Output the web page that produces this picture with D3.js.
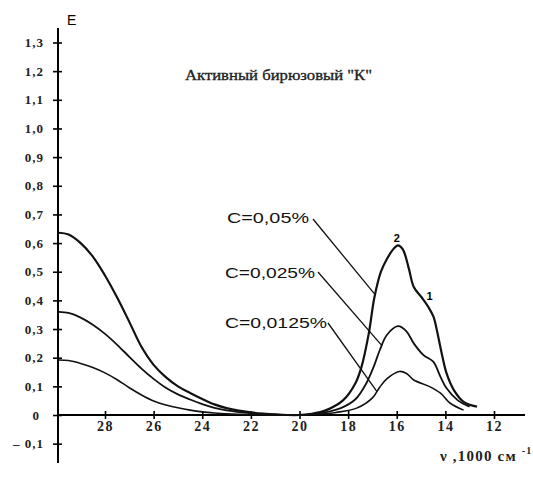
<!DOCTYPE html>
<html><head><meta charset="utf-8">
<script src="https://cdn.jsdelivr.net/npm/d3@7"></script>
<style>body{margin:0;background:#fff} svg{display:block} .serif{font-family:"Liberation Serif","DejaVu Serif",serif} .sans{font-family:"Liberation Sans",Arial,sans-serif}</style>
</head><body><svg id="c" width="533" height="481"></svg>
<script>
// ---- data ----
const xTicks = [28, 26, 24, 22, 20, 18, 16, 14, 12];
const yTicks = [-0.1, 0, 0.1, 0.2, 0.3, 0.4, 0.5, 0.6, 0.7, 0.8, 0.9, 1.0, 1.1, 1.2, 1.3];
const seriesNames = ["C=0,05%", "C=0,025%", "C=0,0125%"];
const curve1 = [[29.9,0.636],[29.5,0.63],[29.0,0.60],[28.5,0.553],[28.0,0.487],[27.5,0.41],[27.0,0.325],[26.5,0.238],[26.0,0.175],[25.5,0.132],[25.0,0.1],[24.5,0.077],[24.0,0.056],[23.5,0.037],[23.0,0.024],[22.5,0.015],[22.0,0.009],[21.5,0.005],[21.0,0.002],[20.5,0.0],[20.0,0.0],[19.5,0.004],[18.9,0.017],[18.2,0.052],[17.7,0.111],[17.45,0.168],[17.15,0.285],[16.92,0.41],[16.65,0.5],[16.4,0.545],[16.15,0.578],[15.95,0.592],[15.75,0.578],[15.5,0.51],[15.3,0.447],[14.97,0.41],[14.7,0.377],[14.49,0.343],[14.35,0.296],[14.15,0.215],[13.95,0.145],[13.65,0.087],[13.25,0.046],[12.7,0.029]];
const curve2 = [[29.9,0.36],[29.5,0.356],[29.0,0.34],[28.5,0.315],[28.0,0.283],[27.5,0.245],[27.0,0.203],[26.5,0.162],[26.0,0.126],[25.5,0.095],[25.0,0.072],[24.5,0.054],[24.0,0.038],[23.5,0.025],[23.0,0.016],[22.5,0.01],[22.0,0.006],[21.5,0.003],[21.0,0.001],[20.5,0.0],[20.0,0.0],[19.4,0.004],[18.8,0.012],[18.3,0.024],[17.7,0.055],[17.25,0.111],[16.95,0.168],[16.7,0.226],[16.4,0.28],[15.95,0.31],[15.6,0.292],[15.3,0.25],[14.9,0.209],[14.5,0.186],[14.2,0.133],[13.95,0.093],[13.5,0.052],[13.0,0.029]];
const curve3 = [[29.9,0.192],[29.5,0.19],[29.0,0.18],[28.5,0.166],[28.0,0.147],[27.5,0.123],[27.0,0.095],[26.5,0.07],[26.0,0.049],[25.5,0.035],[25.0,0.025],[24.5,0.017],[24.0,0.011],[23.5,0.007],[23.0,0.004],[22.0,0.001],[21.0,0.0],[20.0,0.0],[19.2,0.003],[18.5,0.009],[17.65,0.024],[17.0,0.06],[16.7,0.097],[16.4,0.127],[15.9,0.152],[15.6,0.145],[15.3,0.122],[14.65,0.099],[14.2,0.076],[13.8,0.041],[13.25,0.017]];
const leaderNu = [16.89, 16.61, 16.82];
const curveLabels = [{text: "2", nu: 16.0, e: 0.617}, {text: "1", nu: 14.65, e: 0.415}];
const title = "Активный бирюзовый \"К\"";

// ---- drawing ----
const svg = d3.select("#c");
const x = d3.scaleLinear().domain([28, 12]).range([105, 494]);
const y = d3.scaleLinear().domain([0, 1.3]).range([415, 42.5]);
const axisX = 58;

// x axis
const gx = svg.append("g").attr("transform", `translate(0,${y(0)})`)
  .call(d3.axisBottom(x).tickValues(xTicks).tickSize(5).tickPadding(1).tickFormat(d => d));
gx.attr("font-family", null).attr("font-size", null);
gx.select(".domain").remove();
gx.selectAll(".tick line").attr("y1", -4).attr("y2", 4).attr("stroke", "#000").attr("stroke-width", 1.6);
gx.selectAll(".tick text").attr("class", "serif").style("font-size", "14px").style("font-weight", "bold")
  .attr("letter-spacing", 1.5).attr("fill", "#222");
svg.append("line").attr("x1", axisX).attr("x2", 525).attr("y1", y(0)).attr("y2", y(0))
  .attr("stroke", "#000").attr("stroke-width", 2);

// y axis
const fmt = d => d === 0 ? "0" : (d < 0 ? "\u2013 " : "") + Math.abs(d).toFixed(1).replace(".", ",");
const gy = svg.append("g").attr("transform", `translate(${axisX},0)`)
  .call(d3.axisLeft(y).tickValues(yTicks).tickSize(5).tickPadding(9).tickFormat(fmt));
gy.attr("font-family", null).attr("font-size", null);
gy.select(".domain").remove();
gy.selectAll(".tick line").attr("x1", -5).attr("x2", 4).attr("stroke", "#000").attr("stroke-width", 1.6);
gy.selectAll(".tick text").attr("class", "serif").style("font-size", "13px").style("font-weight", "bold")
  .attr("letter-spacing", 1).attr("fill", "#222");
gy.selectAll(".tick").filter(d => d === 0).select("text").attr("x", -18);
svg.append("line").attr("x1", axisX).attr("x2", axisX).attr("y1", 28).attr("y2", 463)
  .attr("stroke", "#000").attr("stroke-width", 2);

// axis labels
svg.append("text").attr("class", "sans").attr("x", 67).attr("y", 25).style("font-size", "14px").text("E");
const xl = svg.append("text").attr("class", "serif").attr("x", 440).attr("y", 461)
  .style("font-size", "15px").style("font-weight", "bold").attr("letter-spacing", 1.2).attr("fill", "#222");
xl.append("tspan").text("\u03bd ,1000 \u0441\u043c ");
xl.append("tspan").style("font-size", "10px").attr("dy", -7).text("-1");

// title
svg.append("text").attr("class", "serif").attr("x", 185).attr("y", 80).style("font-size", "15px")
  .attr("stroke", "#222").attr("stroke-width", 0.35)
  .attr("textLength", 187).attr("lengthAdjust", "spacingAndGlyphs")
  .attr("fill", "#222").text(title);

// curves
const line = d3.line().x(d => x(d[0])).y(d => y(d[1])).curve(d3.curveCatmullRom.alpha(0.5));
const curves = [curve1, curve2, curve3];
const widths = [2.2, 1.8, 1.6];
curves.forEach((c, i) => {
  svg.append("path").attr("d", line(c)).attr("fill", "none").attr("stroke", "#111")
    .attr("stroke-width", widths[i]).attr("stroke-linejoin", "round");
});

// leader lines + labels
const interp = (c, nu) => {
  for (let i = 0; i < c.length - 1; i++) {
    const a = c[i], b = c[i + 1];
    if ((a[0] - nu) * (b[0] - nu) <= 0) {
      const t = (nu - a[0]) / (b[0] - a[0]);
      return a[1] + t * (b[1] - a[1]);
    }
  }
  return 0;
};
const labelPos = [[227, 223, 313, 219, 82], [225, 278, 318, 272, 90], [225, 328, 328, 323, 102]];
seriesNames.forEach((name, i) => {
  const p = labelPos[i];
  svg.append("text").attr("class", "sans").attr("x", p[0]).attr("y", p[1]).style("font-size", "15px")
    .attr("textLength", p[4]).attr("lengthAdjust", "spacingAndGlyphs").attr("fill", "#111").text(name);
  const nu = leaderNu[i];
  svg.append("line").attr("x1", p[2]).attr("y1", p[3]).attr("x2", x(nu)).attr("y2", y(interp(curves[i], nu)))
    .attr("stroke", "#111").attr("stroke-width", 1.3);
});

curveLabels.forEach(l => {
  svg.append("text").attr("class", "sans").attr("x", x(l.nu)).attr("y", y(l.e) + 4).attr("text-anchor", "middle")
    .style("font-size", "11px").style("font-weight", "bold").text(l.text);
});
</script></body></html>
